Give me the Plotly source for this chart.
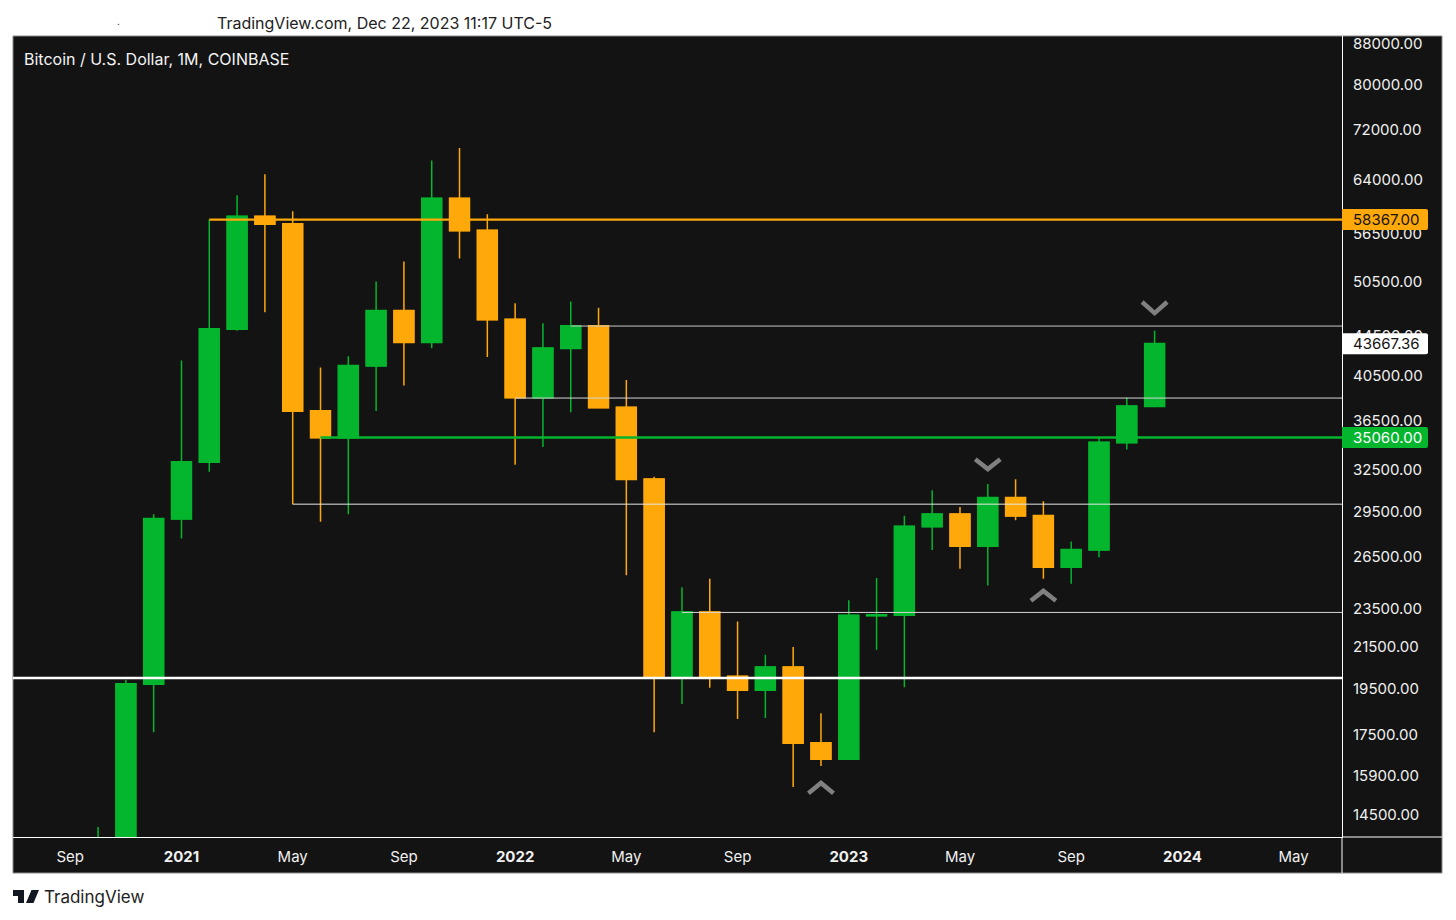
import numpy as np
import plotly.graph_objects as go

# month index: 0 = Jan 2021, evenly spaced like TradingView's monthly axis
months = list(range(-3, 36))
opens = [10776, 13500, 19700, 29000, 33100, 45200, 58800, 57750, 37300, 35060, 41460, 47150, 43800,
         61300, 56900, 46200, 38500, 43200, 45500, 37600, 31800, 20000, 23300, 20050, 19430, 20490,
         17160, 16530, 23130, 23150, 28470, 29300, 27200, 30450, 29200, 25900, 26960, 34650, 37720]
highs = [14100, 19900, 29300, 41986, 58367, 61800, 64900, 59500, 41300, 42400, 50500, 52900, 67000,
         69000, 59100, 47990, 45800, 48200, 47500, 40100, 31980, 24700, 25200, 22800, 21100, 21480,
         18400, 23960, 25250, 29200, 31000, 29800, 31450, 31800, 30200, 27500, 35060, 38500, 45000]
lows = [10500, 13200, 17600, 27678, 32360, 45000, 47000, 30000, 28800, 29300, 37300, 39600, 43200,
        53300, 42330, 32900, 34300, 37200, 37550, 25400, 17600, 18800, 19530, 18150, 18200, 15480,
        16260, 16500, 21350, 19550, 26950, 25800, 24800, 28900, 25200, 24900, 26500, 34100, 37630]
closes = [13500, 19700, 29000, 33100, 45200, 58800, 57750, 37300, 35060, 41460, 47150, 43800, 61300,
          56900, 46200, 38500, 43200, 45500, 37600, 31800, 20000, 23300, 20050, 19430, 20490, 17160,
          16530, 23130, 23150, 28470, 29300, 27200, 30450, 29200, 25900, 26960, 34650, 37720, 43667.36]

x_ticks = [-4, 0, 4, 8, 12, 16, 20, 24, 28, 32, 36, 40]
x_labels = ["Sep", "<b>2021</b>", "May", "Sep", "<b>2022</b>", "May", "Sep", "<b>2023</b>", "May", "Sep", "<b>2024</b>", "May"]
y_ticks = [14500, 15900, 17500, 19500, 21500, 23500, 26500, 29500, 32500, 36500, 40500, 44500,
           50500, 56500, 64000, 72000, 80000, 88000]

# horizontal levels: first month, price, colour, width
level_starts = [1, 5, -7, 14, 12, 4, 18]
level_prices = [58367, 35060, 19977, 45500, 38450, 30000, 23290]
level_colors = ["#FFA80A", "#04B52E", "#FFFFFF", "#C8C8C8", "#D8D8D8", "#E8E8E8", "#D8D8D8"]
level_widths = [2.3, 2.5, 2.5, 1, 1, 1, 1]

# chevrons above and below the swing candles
chevron_months = [35, 29, 31, 23]
chevron_tips = [46900, 32570, 24490, 15630]
chevron_ends = [48130, 33330, 23930, 15260]

# price tags on the right hand scale
tag_prices = [58367, 43667.36, 35060]
tag_fill = ["#FFA80A", "#FFFFFF", "#04B52E"]
tag_text = ["#131313", "#131313", "#FFFFFF"]

BG = "#131313"
FONT = "Inter"
GREEN = "#04B52E"
ORANGE = "#FFA80A"
AXIS_RIGHT = 41.74
AXIS_LEFT = -6.06

fig = go.Figure()

# wicks first, thin line
fig.add_trace(go.Candlestick(
    x=months, open=opens, high=highs, low=lows, close=closes,
    increasing=dict(line=dict(color=GREEN, width=1.5), fillcolor=GREEN),
    decreasing=dict(line=dict(color=ORANGE, width=1.5), fillcolor=ORANGE),
    whiskerwidth=0, showlegend=False,
))
# bodies on top, heavier outline because plotly caps the box width
body_highs = [max(o, c) for o, c in zip(opens, closes)]
body_lows = [min(o, c) for o, c in zip(opens, closes)]
fig.add_trace(go.Candlestick(
    x=months, open=opens, high=body_highs, low=body_lows, close=closes,
    increasing=dict(line=dict(color=GREEN, width=2), fillcolor=GREEN),
    decreasing=dict(line=dict(color=ORANGE, width=2), fillcolor=ORANGE),
    whiskerwidth=0, showlegend=False,
))

for start, price, color, width in zip(level_starts, level_prices, level_colors, level_widths):
    fig.add_trace(go.Scatter(x=[start, AXIS_RIGHT], y=[price, price], mode="lines",
                             line=dict(color=color, width=width), showlegend=False))

for month, tip, end in zip(chevron_months, chevron_tips, chevron_ends):
    fig.add_trace(go.Scatter(x=[month - 0.45, month, month + 0.45], y=[end, tip, end], mode="lines",
                             line=dict(color="#808080", width=4.5), showlegend=False))

fig.update_layout(
    width=1440, height=904,
    margin=dict(l=5, r=106, t=28, b=75),
    paper_bgcolor="#FFFFFF", plot_bgcolor=BG,
    boxgap=0,
    font=dict(family=FONT, size=15, color="#F0F0F0"),
    xaxis=dict(range=[AXIS_LEFT, AXIS_RIGHT], tickvals=x_ticks, ticktext=x_labels, showgrid=False,
               zeroline=False, rangeslider=dict(visible=False), ticks="", ticklabelstandoff=6,
               showline=True, linecolor="#FFFFFF", linewidth=1, tickfont=dict(size=15, color="#F0F0F0")),
    yaxis=dict(type="log", range=[4.1391, 4.9526], tickvals=y_ticks, tickformat=".2f", showgrid=False,
               zeroline=False, side="right", ticks="", ticklabelstandoff=7,
               showline=True, linecolor="#FFFFFF", linewidth=1, tickfont=dict(size=15, color="#F0F0F0")),
)

# dark frame around the axis strips, sits under the plot
fig.add_shape(type="rect", xref="paper", yref="paper", x0=0, x1=1 + 100 / 1329, y0=-36 / 801, y1=1,
              fillcolor=BG, line=dict(color="#8A8A8A", width=1), layer="below")
fig.add_shape(type="line", xref="paper", yref="paper", x0=1, x1=1, y0=-36 / 801, y1=0, line=dict(color="#FFFFFF", width=1))
fig.add_shape(type="line", xref="paper", yref="paper", x0=1, x1=1 + 100 / 1329, y0=0, y1=0, line=dict(color="#FFFFFF", width=1))

for price, fill, text in zip(tag_prices, tag_fill, tag_text):
    fig.add_shape(type="path", xref="paper", yref="y", xsizemode="pixel", ysizemode="pixel",
                  xanchor=1, yanchor=price, fillcolor=fill, line=dict(width=0),
                  path="M0,-10.5 H84 Q86,-10.5 86,-8.5 V8.5 Q86,10.5 84,10.5 H0 Z")
    fig.add_annotation(xref="paper", yref="y", x=1, y=np.log10(price), xshift=9, xanchor="left", yanchor="middle",
                       text=f"{price:.2f}", showarrow=False, font=dict(color=text, size=15, family=FONT))

fig.add_annotation(xref="paper", yref="paper", x=0, y=1, xshift=9, yshift=-23, xanchor="left", yanchor="middle",
                   text="Bitcoin / U.S. Dollar, 1M, COINBASE", showarrow=False,
                   font=dict(color="#F4F4F4", size=16, family=FONT))
fig.add_annotation(xref="paper", yref="paper", x=0, y=1, xshift=202, yshift=13, xanchor="left", yanchor="middle",
                   text="TradingView.com, Dec 22, 2023 11:17 UTC-5", showarrow=False,
                   font=dict(color="#222222", size=16, family=FONT))
fig.add_annotation(xref="paper", yref="paper", x=0, y=1, xshift=102, yshift=15, xanchor="left", yanchor="middle",
                   text=".", showarrow=False, font=dict(color="#222222", size=10, family=FONT))
fig.add_annotation(xref="paper", yref="paper", x=0, y=0, xshift=29, yshift=-60, xanchor="left", yanchor="middle",
                   text="TradingView", showarrow=False, font=dict(color="#222222", size=17, family=FONT))

# TradingView logo
for path in ["M0,-53 H11 V-66 H5 V-59 H0 Z",
             "M12,-55.5 A2.5,2.5 0 1 0 17,-55.5 A2.5,2.5 0 1 0 12,-55.5 Z",
             "M18.5,-53 H26 L20.5,-66 H13 Z"]:
    fig.add_shape(type="path", xref="paper", yref="paper", xsizemode="pixel", ysizemode="pixel",
                  xanchor=0, yanchor=0, path=path, fillcolor="#131722", line=dict(width=0))

fig.write_html("out.html")
